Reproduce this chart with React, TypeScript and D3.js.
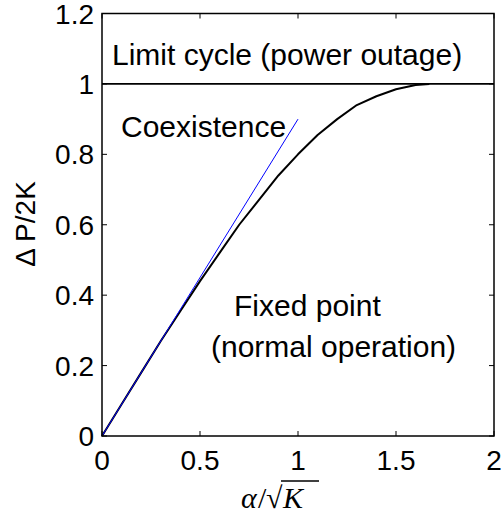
import React from "react";
import * as d3 from "d3";

const curveX = [0, 0.1, 0.2, 0.3, 0.4, 0.5, 0.6, 0.7, 0.8, 0.9, 1.0, 1.1, 1.2, 1.3, 1.4, 1.5, 1.6, 1.67];
const curveY = [0, 0.09, 0.18, 0.27, 0.355, 0.44, 0.52, 0.6, 0.67, 0.74, 0.8, 0.855, 0.9, 0.94, 0.965, 0.985, 0.997, 1.0];
const blueX = [0, 1];
const blueY = [0, 0.9];
const limitX = [0, 2];
const limitY = [1, 1];
const xTicks = [0, 0.5, 1, 1.5, 2];
const yTicks = [0, 0.2, 0.4, 0.6, 0.8, 1, 1.2];
const regionLabels = ["Limit cycle (power outage)", "Coexistence", "Fixed point", "(normal operation)"];
const yLabel = "Δ P/2K";

export default function App() {
  const W = 501, H = 521;
  const L = 102, R = 494, T = 13.5, B = 436;
  const x = d3.scaleLinear().domain([0, 2]).range([L, R]);
  const y = d3.scaleLinear().domain([0, 1.2]).range([B, T]);
  const line = d3.line<[number, number]>().x(d => x(d[0])).y(d => y(d[1]));
  const curve = curveX.map((v, i) => [v, curveY[i]] as [number, number]);
  const blue = blueX.map((v, i) => [v, blueY[i]] as [number, number]);
  const limit = limitX.map((v, i) => [v, limitY[i]] as [number, number]);
  const font = "Liberation Sans, Arial, Helvetica, sans-serif";
  const tk = 5;
  return (
    <svg width={W} height={H} style={{ position: "absolute", left: 0, top: 0, background: "#fff" }}>
      <rect x={0} y={0} width={W} height={H} fill="#fff" />
      {/* ticks */}
      {xTicks.map(t => (
        <g key={"xt" + t}>
          <line x1={x(t)} x2={x(t)} y1={B} y2={B - tk} stroke="#000" strokeWidth={1} />
          <line x1={x(t)} x2={x(t)} y1={T} y2={T + tk} stroke="#000" strokeWidth={1} />
          <text x={x(t)} y={470} fontFamily={font} fontSize={28} textAnchor="middle" fill="#000">{String(t)}</text>
        </g>
      ))}
      {yTicks.map(t => (
        <g key={"yt" + t}>
          <line x1={L} x2={L + tk} y1={y(t)} y2={y(t)} stroke="#000" strokeWidth={1} />
          <line x1={R} x2={R - tk} y1={y(t)} y2={y(t)} stroke="#000" strokeWidth={1} />
          <text x={94} y={y(t)} dy="0.36em" fontFamily={font} fontSize={28} textAnchor="end" fill="#000">{String(t)}</text>
        </g>
      ))}
      <path d={line(limit) || ""} fill="none" stroke="#000" strokeWidth={1.6} />
      <path d={line(curve) || ""} fill="none" stroke="#000" strokeWidth={2} strokeLinejoin="round" />
      <path d={line(blue) || ""} fill="none" stroke="#0000ff" strokeWidth={1} />
      <rect x={L} y={T} width={R - L} height={B - T} fill="none" stroke="#000" strokeWidth={1.5} />
      <text x={112} y={65} fontFamily={font} fontSize={30} fill="#000">{regionLabels[0]}</text>
      <text x={121} y={137} fontFamily={font} fontSize={30} fill="#000">{regionLabels[1]}</text>
      <text x={234} y={316} fontFamily={font} fontSize={30} fill="#000">{regionLabels[2]}</text>
      <text x={211} y={357} fontFamily={font} fontSize={30} fill="#000">{regionLabels[3]}</text>
      <text transform="translate(35,224) rotate(-90)" fontFamily={font} fontSize={28} textAnchor="middle" fill="#000">{yLabel}</text>
      <g fontFamily="Liberation Serif, 'DejaVu Serif', serif" fontSize={30} fill="#000">
        <text x={241} y={508} fontStyle="italic">α</text>
        <text x={258} y={508}>/</text>
        <text x={266} y={508}>√</text>
        <line x1={281} x2={319} y1={481} y2={481} stroke="#000" strokeWidth={1.3} />
        <text x={283} y={508} fontStyle="italic">K</text>
      </g>
    </svg>
  );
}
